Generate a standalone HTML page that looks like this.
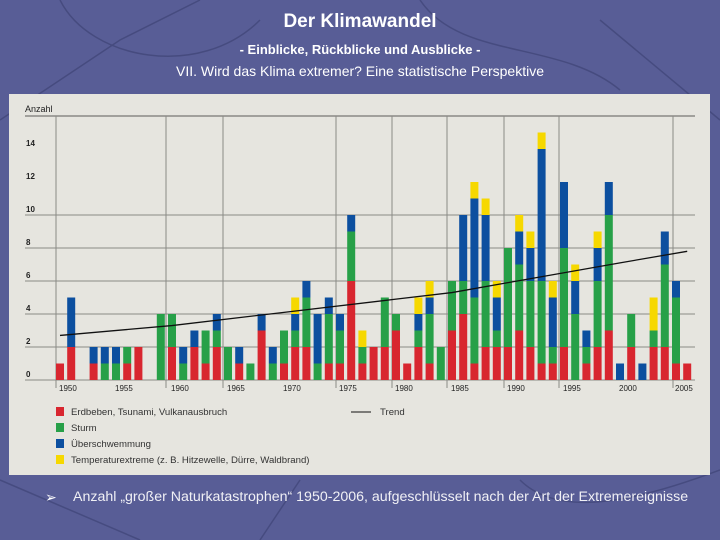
<!DOCTYPE html>
<html><head><meta charset="utf-8"><style>
body{margin:0;width:720px;height:540px;overflow:hidden;background:#585d96;font-family:"Liberation Sans",sans-serif;}
.t{position:absolute;width:720px;text-align:center;color:#fff;}
</style></head><body>
<svg width="720" height="540" style="position:absolute;left:0;top:0">
<g stroke="#3f4476" stroke-width="1.5" fill="none" opacity="0.7">
<path d="M60,0 C90,60 200,80 260,20"/><path d="M0,120 L120,40 L200,0"/><path d="M420,0 C460,60 560,40 620,90"/>
<path d="M600,20 L720,120"/><path d="M0,480 L140,540"/><path d="M300,480 L260,540"/><path d="M520,480 C560,520 640,500 720,470"/>
</g></svg>
<div class="t" style="top:11px;font-size:19px;font-weight:bold">Der Klimawandel</div>
<div class="t" style="top:42px;font-size:13px;font-weight:bold">- Einblicke, Rückblicke und Ausblicke -</div>
<div class="t" style="top:63px;font-size:14px">VII. Wird das Klima extremer? Eine statistische Perspektive</div>
<svg id="chart" width="720" height="540" style="position:absolute;left:0;top:0">
<rect x="9" y="94" width="701" height="381" fill="#e6e5df"/>
</svg>
<div style="position:absolute;left:45px;top:489px;color:#fff;font-size:14px">➢</div>
<div style="position:absolute;left:73px;top:489px;color:#f0f0f5;font-size:14.2px;white-space:nowrap">Anzahl „großer Naturkatastrophen“ 1950-2006, aufgeschlüsselt nach der Art der Extremereignisse</div>
<script>
const years=[1950,1951,1952,1953,1954,1955,1956,1957,1958,1959,1960,1961,1962,1963,1964,1965,1966,1967,1968,1969,1970,1971,1972,1973,1974,1975,1976,1977,1978,1979,1980,1981,1982,1983,1984,1985,1986,1987,1988,1989,1990,1991,1992,1993,1994,1995,1996,1997,1998,1999,2000,2001,2002,2003,2004,2005,2006];
const quake=[1,2,0,1,0,0,1,2,0,0,2,0,2,1,2,0,1,0,3,0,1,2,2,0,1,1,6,1,2,2,3,1,2,1,0,3,4,1,2,2,2,3,2,1,1,2,0,1,2,3,0,2,0,2,2,1,1];
const storm=[0,0,0,0,1,1,1,0,0,4,2,1,0,2,1,2,0,1,0,1,2,1,3,1,3,2,3,1,0,3,1,0,1,3,2,3,2,4,4,1,6,4,4,5,1,6,4,1,4,7,0,2,0,1,5,4,0];
const flood=[0,3,0,1,1,1,0,0,0,0,0,1,1,0,1,0,1,0,1,1,0,1,1,3,1,1,1,0,0,0,0,0,1,1,0,0,4,6,4,2,0,2,2,8,3,4,2,1,2,2,1,0,1,0,2,1,0];
const temp=[0,0,0,0,0,0,0,0,0,0,0,0,0,0,0,0,0,0,0,0,0,1,0,0,0,0,0,1,0,0,0,0,1,1,0,0,0,1,1,1,0,1,1,1,1,0,1,0,1,0,0,0,0,2,0,0,0];
const trendYears=[1950,1960,1970,1980,1985,1990,2000,2006];
const trendVals=[2.7,3.3,4.1,4.9,5.3,5.9,7.1,7.8];
const yTicks=[0,2,4,6,8,10,12,14];
const xTickYears=[1950,1955,1960,1965,1970,1975,1980,1985,1990,1995,2000,2005];
const gridX=[56,166,223,336,392,447,504,559,673];
const series=[[quake,'#d8262f','quake'],[storm,'#27a048','storm'],[flood,'#0c4f9f','flood'],[temp,'#f6d800','temperature']];
const NS='http://www.w3.org/2000/svg';
const svg=document.getElementById('chart');
const X=y=>60+(y-1950)*11.2;
const Y=v=>380-16.5*v;
function mk(t,a,p){const e=document.createElementNS(NS,t);for(const k in a)e.setAttribute(k,a[k]);(p||svg).appendChild(e);return e;}
let e;
e=mk('line',{x1:25,y1:116,x2:695,y2:116,stroke:'#8a8a86','stroke-width':1.5});


e=mk('text',{x:25,y:112,'font-size':9,fill:'#222'});e.textContent='Anzahl';


gridX.forEach(gx=>{e=mk('line',{x1:gx,y1:116,x2:gx,y2:388,stroke:'#8a8a86','stroke-width':1});

});
yTicks.forEach(v=>{
if(v<=10){e=mk('line',{x1:25,y1:Y(v),x2:695,y2:Y(v),stroke:'#8a8a86','stroke-width':1});

}
e=mk('text',{x:26,y:Y(v)-3,'font-size':8,fill:'#222','font-weight':'bold'});e.textContent=v;


});
years.forEach((yr,i)=>{let acc=0;series.forEach(s=>{const v=s[0][i];if(v>0){
e=mk('rect',{x:X(yr)-4,y:Y(acc+v),width:8,height:Y(acc)-Y(acc+v),fill:s[1]});


acc+=v;}});});
e=mk('polyline',{points:trendYears.map((y,i)=>X(y)+','+Y(trendVals[i])).join(' '),fill:'none',stroke:'#111','stroke-width':1.3});


xTickYears.forEach(yr=>{e=mk('text',{x:X(yr)-1,y:391,'font-size':8,fill:'#222'});e.textContent=yr;

});
const legendLabels=['Erdbeben, Tsunami, Vulkanausbruch','Sturm','Überschwemmung','Temperaturextreme (z. B. Hitzewelle, Dürre, Waldbrand)'];
legendLabels.forEach((l,i)=>{
e=mk('rect',{x:56,y:407+i*16,width:8,height:9,fill:series[i][1]});


e=mk('text',{x:71,y:415+i*16,'font-size':9.6,fill:'#333'});e.textContent=l;


});
e=mk('line',{x1:351,y1:412,x2:371,y2:412,stroke:'#111','stroke-width':1});


e=mk('text',{x:380,y:415,'font-size':9.6,fill:'#333'});e.textContent='Trend';


</script>
</body></html>
